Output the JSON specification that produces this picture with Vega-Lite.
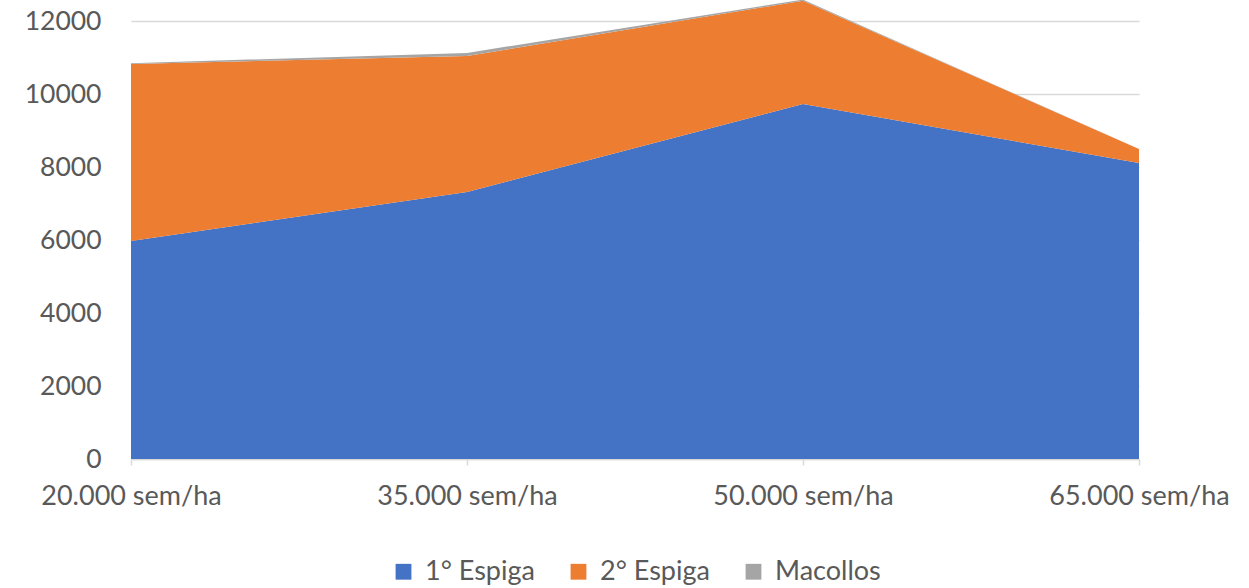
{
  "$schema": "https://vega.github.io/schema/vega-lite/v6.json",
  "width": 1008,
  "height": 438,
  "autosize": {"type": "none"},
  "padding": {"left": 131, "top": 21, "right": 110, "bottom": 129},
  "background": "white",
  "data": {
    "values": [
      {"densidad": "20.000 sem/ha", "serie": "1° Espiga", "ord": 1, "rend": 5970},
      {"densidad": "35.000 sem/ha", "serie": "1° Espiga", "ord": 1, "rend": 7315},
      {"densidad": "50.000 sem/ha", "serie": "1° Espiga", "ord": 1, "rend": 9726},
      {"densidad": "65.000 sem/ha", "serie": "1° Espiga", "ord": 1, "rend": 8110},
      {"densidad": "20.000 sem/ha", "serie": "2° Espiga", "ord": 2, "rend": 4850},
      {"densidad": "35.000 sem/ha", "serie": "2° Espiga", "ord": 2, "rend": 3726},
      {"densidad": "50.000 sem/ha", "serie": "2° Espiga", "ord": 2, "rend": 2830},
      {"densidad": "65.000 sem/ha", "serie": "2° Espiga", "ord": 2, "rend": 383},
      {"densidad": "20.000 sem/ha", "serie": "Macollos", "ord": 3, "rend": 25},
      {"densidad": "35.000 sem/ha", "serie": "Macollos", "ord": 3, "rend": 85},
      {"densidad": "50.000 sem/ha", "serie": "Macollos", "ord": 3, "rend": 30},
      {"densidad": "65.000 sem/ha", "serie": "Macollos", "ord": 3, "rend": 0}
    ]
  },
  "config": {
    "view": {"stroke": null},
    "font": "Lato"
  },
  "mark": {"type": "area", "clip": false, "opacity": 1},
  "encoding": {
    "x": {
      "field": "densidad",
      "type": "ordinal",
      "scale": {"type": "point", "padding": 0},
      "axis": {
        "title": null,
        "labelAngle": 0,
        "labelFontSize": 27,
        "labelLimit": 0,
        "labelColor": "#595959",
        "labelPadding": 18,
        "domainColor": "#d9d9d9",
        "domainWidth": 1.5,
        "tickColor": "#d9d9d9",
        "tickSize": 6,
        "tickWidth": 1.5,
        "grid": false
      }
    },
    "y": {
      "field": "rend",
      "type": "quantitative",
      "stack": "zero",
      "scale": {"domain": [0, 12000], "nice": false},
      "axis": {
        "title": null,
        "format": "d",
        "values": [0, 2000, 4000, 6000, 8000, 10000, 12000],
        "labelFontSize": 26.5,
        "labelColor": "#595959",
        "labelPadding": 30,
        "domain": false,
        "ticks": false,
        "gridColor": "#d9d9d9",
        "gridWidth": 1.5
      }
    },
    "color": {
      "field": "serie",
      "type": "nominal",
      "scale": {"domain": ["1° Espiga", "2° Espiga", "Macollos"], "range": ["#4472c4", "#ed7d31", "#a5a5a5"]},
      "legend": {
        "title": null,
        "orient": "none",
        "direction": "horizontal",
        "legendX": 259,
        "legendY": 537,
        "symbolType": "square",
        "symbolSize": 250,
        "symbolStrokeWidth": 0,
        "labelFontSize": 27,
        "labelLimit": 0,
        "labelColor": "#595959",
        "columnPadding": 30,
        "labelOffset": 8
      }
    },
    "order": {"field": "ord", "type": "quantitative"}
  }
}
